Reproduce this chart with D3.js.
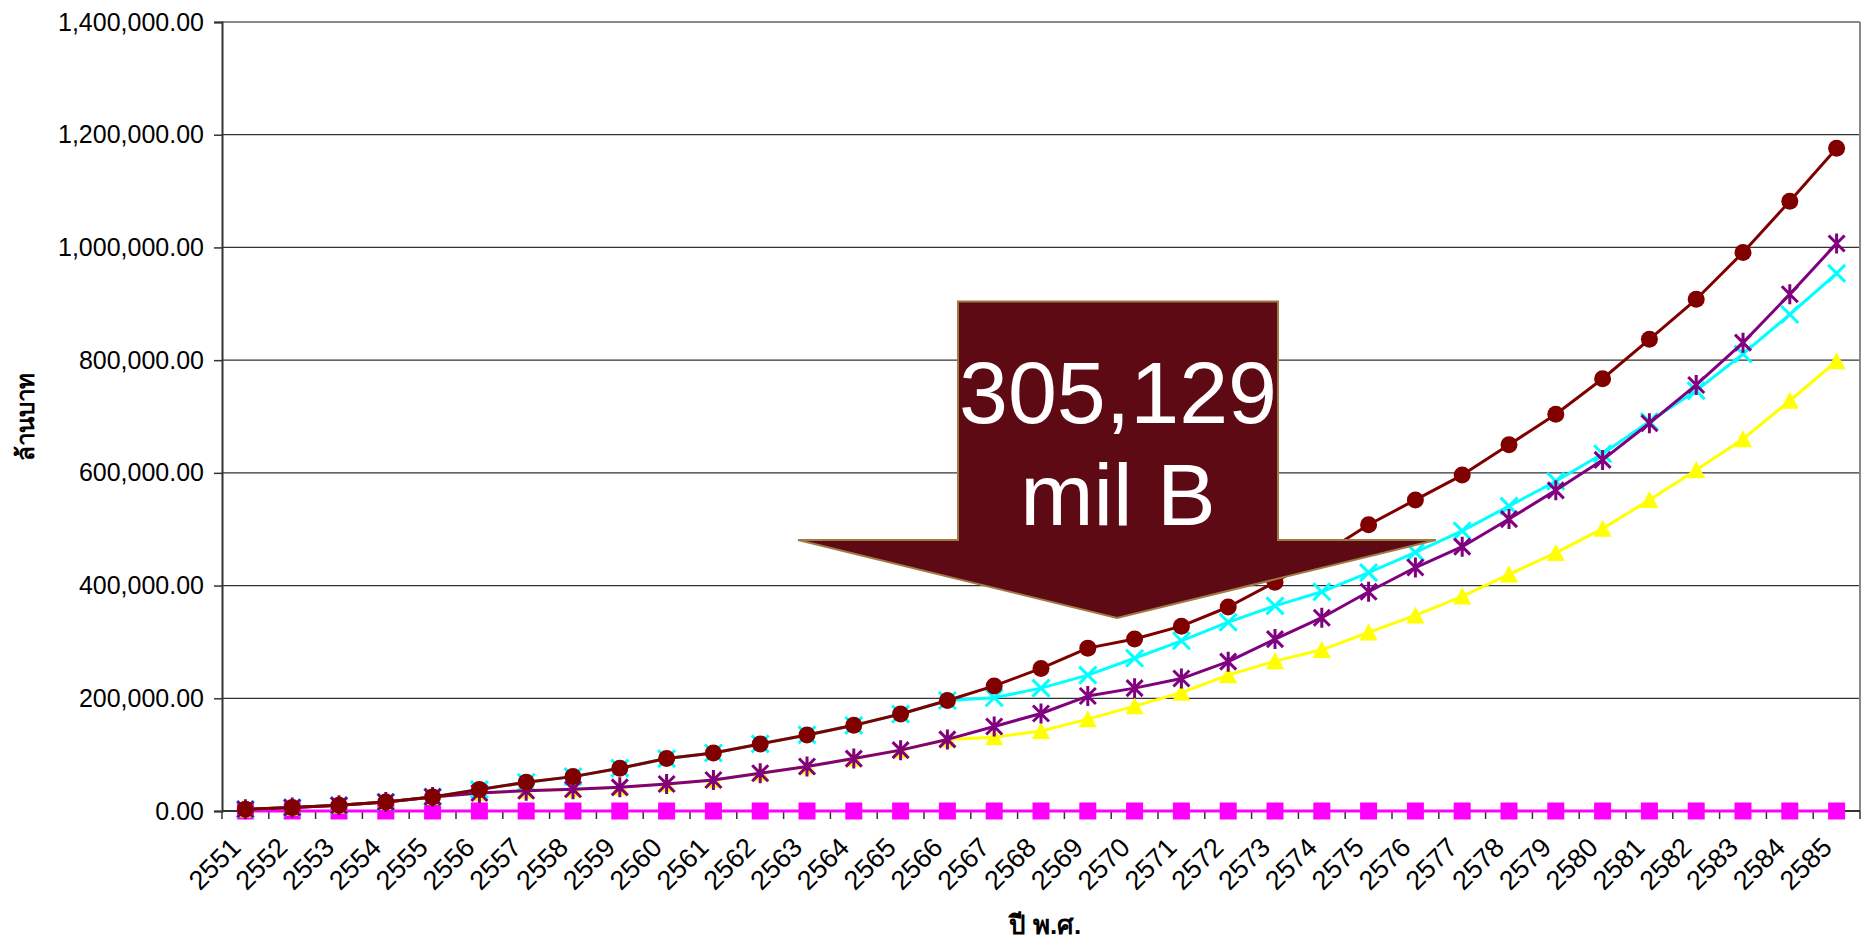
<!DOCTYPE html>
<html>
<head>
<meta charset="utf-8">
<script src="https://cdn.jsdelivr.net/npm/d3@7"></script>
<style>
  html, body { margin: 0; padding: 0; background: #fff; }
  svg { display: block; }
  text { font-family: "Liberation Sans", Arial, "Noto Sans", sans-serif; }
</style>
</head>
<body>
<svg id="chart" width="1861" height="939"></svg>
<script>
// Fiscal years (Buddhist Era)
const years = [2551,2552,2553,2554,2555,2556,2557,2558,2559,2560,2561,2562,2563,2564,2565,2566,2567,2568,2569,2570,2571,2572,2573,2574,2575,2576,2577,2578,2579,2580,2581,2582,2583,2584,2585];

// Accumulated amounts, million baht
const seriesCircle = [3000,6000,10000,16000,25000,38000,51000,61000,76000,93000,103000,119000,135000,152000,172000,196000,222000,253000,289000,305129,328000,362000,406000,455000,508000,552000,596000,650000,704000,767000,837000,908000,991000,1082000,1176000];
const seriesCross = [3000,6000,10000,16000,25000,38000,51000,61000,76000,93000,103000,119000,135000,152000,172000,196000,201000,218000,241000,271000,302000,335000,364000,389000,423000,459000,497000,541000,585000,634000,691000,746000,811000,881000,954000];
const seriesStar = [3000,6000,10000,16000,25000,32000,36000,38500,42000,48000,55000,67000,79000,93000,108000,127000,150000,173000,204000,218000,235000,265000,305000,343000,389000,432000,469000,518000,569000,623000,688000,756000,831000,917000,1007000];
const seriesTriangle = [3000,6000,10000,16000,25000,32000,36000,38500,42000,48000,55000,67000,79000,93000,108000,127000,131000,142000,163000,186000,210000,241000,266000,286000,317000,347000,381000,420000,458000,501000,552000,605000,660000,728000,798000];
const seriesSquare = [0,0,0,0,0,0,0,0,0,0,0,0,0,0,0,0,0,0,0,0,0,0,0,0,0,0,0,0,0,0,0,0,0,0,0];

// Y axis ticks
const yTicks = [0,200000,400000,600000,800000,1000000,1200000,1400000];

// Callout
const calloutLines = ["305,129", "mil B"];

const axisTitleY = "ล้านบาท";
const axisTitleX = "ปี พ.ศ.";

// ---- layout ----
const plot = { left: 222, right: 1860, top: 22, bottom: 811 };

const svg = d3.select("#chart");

const x = d3.scaleBand().domain(years).range([plot.left, plot.right]).padding(0);
const y = d3.scaleLinear().domain([0, 1400000]).range([plot.bottom, plot.top]);
const cx = d => x(d) + x.bandwidth() / 2;

// gridlines
svg.append("g")
  .selectAll("line")
  .data(yTicks.slice(1))
  .join("line")
  .attr("x1", plot.left).attr("x2", plot.right)
  .attr("y1", d => y(d)).attr("y2", d => y(d))
  .attr("stroke", d => d === 1400000 ? "#8a8a8a" : "#333")
  .attr("stroke-width", d => d === 1400000 ? 2 : 1.3);

// right border
svg.append("line")
  .attr("x1", plot.right).attr("x2", plot.right)
  .attr("y1", plot.top).attr("y2", plot.bottom)
  .attr("stroke", "#8a8a8a").attr("stroke-width", 2);

// y axis
const yAxis = d3.axisLeft(y)
  .tickValues(yTicks)
  .tickFormat(d3.format(",.2f"))
  .tickSize(8)
  .tickPadding(10);

const gy = svg.append("g")
  .attr("transform", `translate(${plot.left},0)`)
  .call(yAxis);
gy.select(".domain").attr("stroke", "#333").attr("stroke-width", 2);
gy.selectAll(".tick line").attr("stroke", "#333").attr("stroke-width", 1.5);
gy.selectAll(".tick text")
  .attr("font-size", 25)
  .attr("fill", "#000")
  .style("font-family", '"Liberation Sans", Arial, sans-serif');

// x axis: labels at category centres, ticks at category boundaries
const xAxis = d3.axisBottom(x).tickSize(0).tickPadding(0);
const gx = svg.append("g")
  .attr("transform", `translate(0,${plot.bottom})`)
  .call(xAxis);
gx.select(".domain").remove();
gx.selectAll(".tick text")
  .attr("font-size", 27)
  .attr("fill", "#000")
  .style("font-family", '"Liberation Sans", Arial, sans-serif')
  .attr("text-anchor", "end")
  .attr("dy", null)
  .attr("transform", "translate(-3,38) rotate(-45)");

svg.append("line")
  .attr("x1", plot.left).attr("x2", plot.right)
  .attr("y1", plot.bottom).attr("y2", plot.bottom)
  .attr("stroke", "#333").attr("stroke-width", 2);

const boundaries = years.map(d => x(d)).concat([plot.right]);
svg.append("g")
  .selectAll("line")
  .data(boundaries)
  .join("line")
  .attr("x1", d => d).attr("x2", d => d)
  .attr("y1", plot.bottom).attr("y2", plot.bottom + 8)
  .attr("stroke", "#333").attr("stroke-width", 1.5);

// ---- series ----
const series = [
  { values: seriesSquare,   color: "#FF00FF", marker: "square",   width: 3 },
  { values: seriesTriangle, color: "#FFFF00", marker: "triangle", width: 3 },
  { values: seriesCross,    color: "#00FFFF", marker: "cross",    width: 3 },
  { values: seriesStar,     color: "#800080", marker: "star",     width: 3 },
  { values: seriesCircle,   color: "#800000", marker: "circle",   width: 3 }
];

const line = d3.line()
  .x(d => cx(d.year))
  .y(d => y(d.value));

function drawMarker(g, type, color) {
  if (type === "circle") {
    g.append("circle").attr("r", 8.5).attr("fill", color);
  } else if (type === "square") {
    const s = 8.5;
    g.append("rect").attr("x", -s).attr("y", -s).attr("width", 2 * s).attr("height", 2 * s).attr("fill", color);
  } else if (type === "triangle") {
    const s = 9;
    g.append("path").attr("d", `M0,${-s}L${s},${s * 0.9}L${-s},${s * 0.9}Z`).attr("fill", color);
  } else if (type === "cross") {
    const s = 8.5;
    g.append("path").attr("d", `M${-s},${-s}L${s},${s}M${s},${-s}L${-s},${s}`)
      .attr("stroke", color).attr("stroke-width", 3).attr("fill", "none");
  } else if (type === "star") {
    const s = 8;
    g.append("path").attr("d", `M${-s},${-s}L${s},${s}M${s},${-s}L${-s},${s}M0,${-s - 2}L0,${s + 2}`)
      .attr("stroke", color).attr("stroke-width", 3).attr("fill", "none");
  }
}

series.forEach(sr => {
  const pts = years.map((yr, i) => ({ year: yr, value: sr.values[i] }));
  const g = svg.append("g");
  g.append("path")
    .datum(pts)
    .attr("d", line)
    .attr("fill", "none")
    .attr("stroke", sr.color)
    .attr("stroke-width", sr.width)
    .attr("stroke-linejoin", "round");
  g.selectAll("g.m")
    .data(pts)
    .join("g")
    .attr("class", "m")
    .attr("transform", d => `translate(${cx(d.year)},${y(d.value)})`)
    .each(function () { drawMarker(d3.select(this), sr.marker, sr.color); });
});

// ---- callout arrow ----
const arrow = { bodyLeft: 958, bodyRight: 1278, top: 301.5, shoulderY: 540, shoulderHalf: 319, tipX: 1117, tipY: 618 };
const arrowPts = [
  [arrow.bodyLeft, arrow.top],
  [arrow.bodyRight, arrow.top],
  [arrow.bodyRight, arrow.shoulderY],
  [arrow.tipX + arrow.shoulderHalf, arrow.shoulderY],
  [arrow.tipX, arrow.tipY],
  [arrow.tipX - arrow.shoulderHalf, arrow.shoulderY],
  [arrow.bodyLeft, arrow.shoulderY]
];
svg.append("path")
  .attr("d", d3.line()(arrowPts) + "Z")
  .attr("fill", "#5e0a15")
  .attr("stroke", "#a07a45")
  .attr("stroke-width", 2);

svg.append("g")
  .selectAll("text")
  .data(calloutLines)
  .join("text")
  .attr("x", arrow.tipX + 1)
  .attr("y", (d, i) => 423 + i * 102)
  .attr("text-anchor", "middle")
  .attr("font-size", 88)
  .attr("fill", "#fff")
  .style("font-family", '"Liberation Sans", Arial, sans-serif')
  .text(d => d);

// ---- axis titles ----
svg.append("text")
  .attr("transform", `translate(34,417) rotate(-90)`)
  .attr("text-anchor", "middle")
  .attr("font-size", 24)
  .attr("font-weight", "bold")
  .attr("fill", "#000")
  .text(axisTitleY);

svg.append("text")
  .attr("x", 1045)
  .attr("y", 934)
  .attr("text-anchor", "middle")
  .attr("font-size", 26)
  .attr("font-weight", "bold")
  .attr("fill", "#000")
  .text(axisTitleX);
</script>
</body>
</html>
